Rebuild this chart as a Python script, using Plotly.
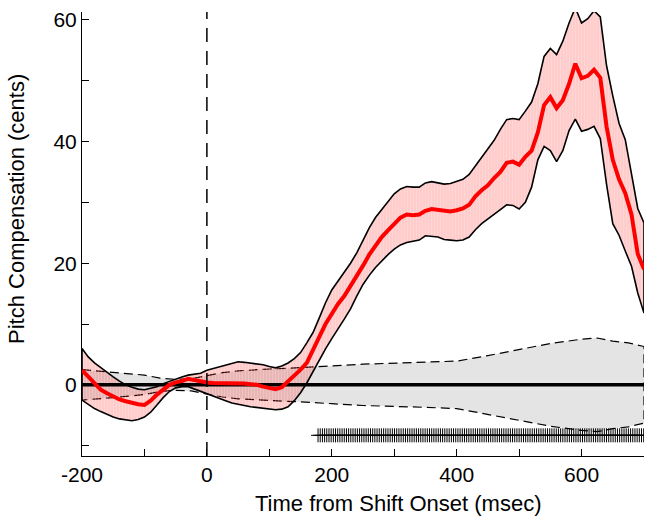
import plotly.graph_objects as go

# Time axis (ms from shift onset), 10 ms samples
time_ms = list(range(-200, 701, 10))

mean_comp = [2.4, 1.3, 0.2, -0.8, -1.4, -1.9, -2.4, -2.7, -3.0, -3.2,
             -3.3, -2.6, -1.6, -0.7, 0.0, 0.4, 0.6, 1.0, 0.8, 0.5,
             0.4, 0.3, 0.3, 0.3, 0.3, 0.2, 0.2, 0.1, 0.0, -0.3,
             -0.5, -0.7, -0.4, 0.5, 1.5, 2.5, 3.6, 5.6, 7.9, 10.0,
             11.8, 13.3, 14.6, 16.2, 18.0, 19.6, 21.4, 23.0, 24.3, 25.4,
             26.5, 27.5, 28.0, 27.9, 28.0, 28.6, 28.9, 28.8, 28.6, 28.5,
             28.7, 29.0, 29.6, 31.0, 32.0, 32.8, 34.0, 35.0, 36.5, 36.7,
             36.2, 37.5, 38.5, 41.5, 46.0, 47.3, 45.5, 46.8, 49.5, 52.8,
             50.4, 50.8, 51.8, 50.5, 42.5, 37.0, 33.8, 31.5, 28.0, 21.5,
             19.0]

upper_comp = [6.0, 4.6, 3.6, 2.8, 2.1, 1.3, 0.6, 0.0, -0.4, -0.7,
              -0.8, -0.6, -0.3, 0.2, 0.6, 1.0, 1.3, 1.6, 1.8, 1.9,
              2.4, 2.7, 3.0, 3.3, 3.6, 3.8, 3.7, 3.6, 3.5, 3.3,
              3.0, 2.8, 3.1, 3.6, 4.3, 5.3, 6.9, 8.6, 11.0, 13.5,
              15.6, 17.0, 18.5, 20.0, 21.7, 23.8, 25.8, 27.5, 28.8, 30.0,
              31.4, 32.2, 32.6, 32.5, 32.5, 33.2, 33.4, 33.2, 33.0, 33.1,
              33.4, 33.8, 34.6, 36.0, 37.6, 38.8, 40.2, 42.0, 43.6, 43.8,
              43.6, 45.0, 46.5, 49.5, 54.0, 55.3, 54.3, 56.5, 59.5, 62.0,
              59.5, 60.2, 61.5, 60.5, 52.5, 47.5, 43.0, 40.3, 34.5, 29.0,
              26.6]

lower_comp = [-2.5, -3.2, -3.9, -4.4, -4.9, -5.3, -5.6, -5.8, -5.9, -5.7,
              -5.3, -4.5, -3.3, -2.1, -1.1, -0.5, -0.3, -0.3, -0.6, -1.1,
              -1.4, -1.8, -2.2, -2.6, -3.0, -3.2, -3.4, -3.6, -3.8, -3.9,
              -4.0, -4.1, -4.0, -3.6, -2.6, -1.3, 0.3, 2.0, 4.0, 5.9,
              7.6, 9.3, 10.8, 12.5, 14.6, 16.5, 18.0, 19.3, 20.4, 21.4,
              22.3, 23.0, 23.4, 23.6, 23.8, 24.5, 24.4, 24.3, 23.9, 23.8,
              23.7, 23.8, 24.3, 25.5, 26.5, 27.2, 28.0, 28.8, 29.6, 29.5,
              28.9, 30.0, 32.5, 37.0, 39.2, 38.5, 36.7, 38.5, 41.8, 43.7,
              41.7, 42.0, 42.5, 40.5, 33.0, 26.5, 24.6, 22.0, 19.5, 15.1,
              11.8]

# Control (no-shift) band half-width, 25 ms samples
ctrl_time = [-200, -175, -150, -125, -100, -75, -50, -25, 0, 25, 50, 75, 100,
             125, 150, 175, 200, 250, 300, 350, 400, 450, 500, 550, 600, 625,
             650, 675, 700]
ctrl_bound = [2.5, 2.3, 2.1, 1.9, 1.6, 1.1, 0.9, 1.0, 1.5, 2.0, 2.3, 2.5, 2.6,
              2.7, 2.8, 2.9, 3.1, 3.4, 3.6, 3.7, 3.9, 4.8, 5.8, 6.8, 7.5, 7.7,
              7.2, 6.9, 6.3]

# Significant samples (ms)
sig_start, sig_end, sig_step = 178.0, 700.0, 3.5
sig_level = -8.3
shift_onset = 0

x_ticks = [-200, -100, 0, 100, 200, 300, 400, 500, 600, 700]
x_ticktext = ["-200", "", "0", "", "200", "", "400", "", "600", ""]
y_ticks = [-10, 0, 10, 20, 30, 40, 50, 60]
y_ticktext = ["", "0", "", "20", "", "40", "", "60"]

FONT = "Liberation Sans, Arial, Helvetica, sans-serif"

fig = go.Figure()

# grey control band (dashed outline)
fig.add_trace(go.Scatter(
    x=ctrl_time + ctrl_time[::-1],
    y=ctrl_bound + [-b for b in ctrl_bound[::-1]],
    fill="toself", fillcolor="#e4e4e4",
    line=dict(color="black", width=1.2, dash="9px,5px"),
    mode="lines", hoverinfo="skip", showlegend=False))

# red confidence band
fig.add_trace(go.Scatter(
    x=time_ms + time_ms[::-1],
    y=upper_comp + lower_comp[::-1],
    fill="toself", fillcolor="rgba(255,0,0,0.2)",
    fillpattern=dict(shape="|", fgcolor="rgba(255,255,255,0.45)",
                     bgcolor="rgba(255,0,0,0.2)", size=3, solidity=0.25),
    line=dict(color="rgba(0,0,0,0)", width=0),
    mode="lines", hoverinfo="skip", showlegend=False))

# zero line
fig.add_trace(go.Scatter(
    x=[time_ms[0], time_ms[-1]], y=[0, 0], mode="lines",
    line=dict(color="black", width=3.5), hoverinfo="skip", showlegend=False))

# band outline
fig.add_trace(go.Scatter(
    x=time_ms + time_ms[::-1] + [time_ms[0]],
    y=upper_comp + lower_comp[::-1] + [upper_comp[0]],
    mode="lines", line=dict(color="black", width=1.6),
    hoverinfo="skip", showlegend=False))

# mean response
fig.add_trace(go.Scatter(
    x=time_ms, y=mean_comp, mode="lines",
    line=dict(color="#ff0000", width=4),
    hoverinfo="skip", showlegend=False))

# significance markers
sig_x = []
v = sig_start
while v <= sig_end + 1e-9:
    sig_x.append(v)
    v += sig_step
fig.add_trace(go.Scatter(
    x=sig_x, y=[sig_level] * len(sig_x), mode="markers",
    marker=dict(symbol="cross-thin", size=10, line=dict(color="black", width=1)),
    hoverinfo="skip", showlegend=False))

fig.add_vline(x=shift_onset, line=dict(color="black", width=1.5, dash="14px,9px"))

# axis titles as annotations (paper coords: plot spans y 12..456 px, x 82..644 px)
fig.add_annotation(text="Time from Shift Onset (msec)", xref="paper", yref="paper",
                   x=(398 - 82) / 562, y=-(517 - 456) / 444,
                   xanchor="center", yanchor="bottom", showarrow=False,
                   borderpad=0, font=dict(size=22))
fig.add_annotation(text="Pitch Compensation (cents)", xref="paper", yref="paper",
                   x=-(82 - 16) / 562, y=1 - (209 - 12) / 444, textangle=-90,
                   xanchor="center", yanchor="middle", showarrow=False,
                   font=dict(size=22))

fig.update_layout(
    width=646, height=518,
    margin=dict(l=82, r=2, t=12, b=62),
    plot_bgcolor="white", paper_bgcolor="white",
    font=dict(family=FONT, size=22, color="black"),
    xaxis=dict(range=[-200, 700], tickvals=x_ticks, ticktext=x_ticktext,
               ticks="inside", ticklen=7, tickwidth=1, tickcolor="black",
               showline=True, linecolor="black", linewidth=1,
               showgrid=False, zeroline=False, automargin=False,
               tickfont=dict(size=21)),
    yaxis=dict(range=[-11.7, 61.3], tickvals=y_ticks, ticktext=y_ticktext,
               ticks="inside", ticklen=7, tickwidth=1, tickcolor="black",
               showline=True, linecolor="black", linewidth=1,
               showgrid=False, zeroline=False, automargin=False,
               tickfont=dict(size=21)),
)

fig.write_html("out.html", config={"displayModeBar": False},
               post_script="document.body.style.margin='0px';document.body.style.overflow='hidden';")
